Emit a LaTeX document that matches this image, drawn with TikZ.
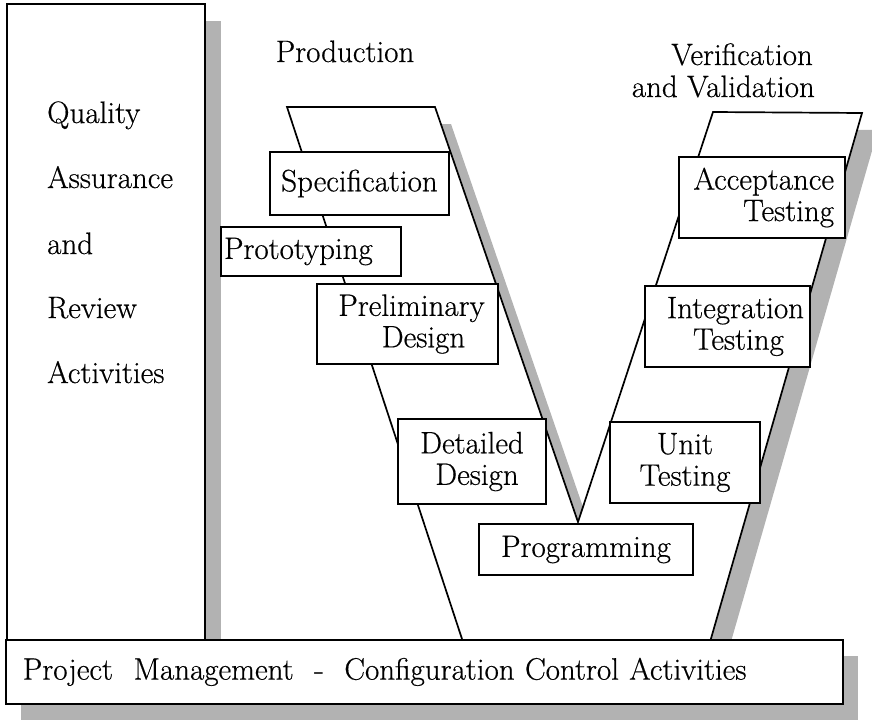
\documentclass[tikz,border=0pt]{standalone}
\usepackage{fontspec}
\setmainfont{Latin Modern Roman}[FakeBold=0.5]
\usetikzlibrary{calc}
\begin{document}
\begin{tikzpicture}[x=1pt,y=-1pt,
  every node/.style={font=\fontsize{31}{31.5}\selectfont},
  edge/.style={line width=1.7pt, line join=miter},
  frame/.style={edge, draw, fill=white},
  stage/.style={frame, inner sep=0pt, align=center},
  shade/.style={fill=black!30},
  caption/.style={inner sep=0pt},
  qaline/.style={anchor=base west, inner sep=0pt},
]
\useasboundingbox (0,0) rectangle (872,723);

% corner points of the V
\coordinate (vA) at (287,107);
\coordinate (vB) at (435,107);
\coordinate (vC) at (578,522);
\coordinate (vD) at (713,112);
\coordinate (vE) at (862,113);
\coordinate (vF) at (710,642);
\coordinate (vG) at (463,642);

% drop shadows, offset down and to the right
\fill[shade] (23,21) rectangle (221,657);
\fill[shade]
  ($(vA)+(16,17)$) -- ($(vB)+(16,17)$) -- ($(vC)+(16,17)$) --
  ($(vD)+(16,17)$) -- ($(vE)+(16,17)$) -- ($(vF)+(16,17)$) --
  ($(vG)+(16,17)$) -- cycle;
\fill[shade] (21,656) rectangle (858,720);

% quality assurance column
\draw[frame] (7,4) rectangle (205,640);
\node[qaline] (qa1) at (47,123) {Quality};
\node[qaline] (qa2) at (47,188) {Assurance};
\node[qaline] (qa3) at (47,254) {and};
\node[qaline] (qa4) at (47,318) {Review};
\node[qaline] (qa5) at (47,383) {Activities};

% the V
\draw[frame]
  (vA) -- (vB) -- (vC) -- (vD) -- (vE) -- (vF) -- (vG) -- cycle;

% project management bar
\node[frame, minimum width=837, minimum height=64, inner ysep=0pt,
      inner xsep=17, anchor=north west, text width=803, align=left]
  (pm) at (5,639)
  {Project\ \ Management\ \ -\ \ Configuration Control Activities};

% headings
\node[caption, anchor=base] (prod) at (345,62) {Production};
\node[caption, anchor=base east] (vv1) at (813,65) {Verification};
\node[caption, anchor=base east] (vv2) at (815,97) {and Validation};

% production stages
\node[stage, minimum width=179, minimum height=63] (spec) at (359.5,183.5)
  {Specification};
\node[stage, minimum width=180, minimum height=49, text width=174,
      inner xsep=3, align=left] (proto) at (311,251.5) {Prototyping};
\node[stage, minimum width=181, minimum height=80] (prelim) at (407.5,324)
  {\hspace*{8pt}Preliminary\\\hspace*{32pt}Design};
\node[stage, minimum width=148, minimum height=85] (detail) at (472,461.5)
  {Detailed\\\hspace*{10pt}Design};
\node[stage, minimum width=214, minimum height=51] (prog) at (586,549.5)
  {Programming};

% verification stages
\node[stage, minimum width=150, minimum height=81] (unit) at (685,462.5)
  {Unit\\Testing};
\node[stage, minimum width=165, minimum height=81] (integ) at (727.5,326.5)
  {\hspace*{16pt}Integration\\\hspace*{22pt}Testing};
\node[stage, minimum width=166, minimum height=81, text width=144,
      inner xsep=11, align=right] (accept) at (762,197.5)
  {Acceptance\\Testing};
\end{tikzpicture}
\end{document}
